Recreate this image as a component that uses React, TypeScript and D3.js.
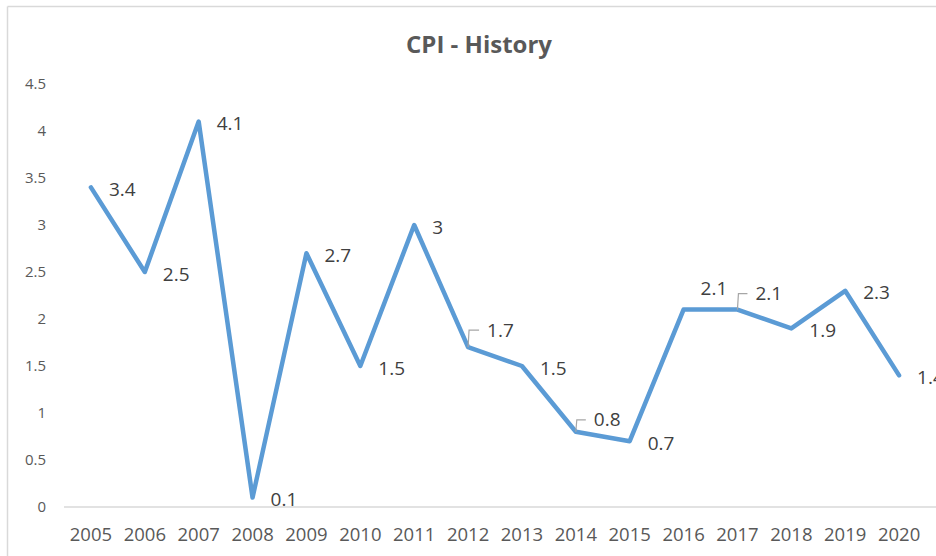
import * as d3 from 'd3';

const years = ['2005', '2006', '2007', '2008', '2009', '2010', '2011', '2012', '2013', '2014', '2015', '2016', '2017', '2018', '2019', '2020'];
const cpi = [3.4, 2.5, 4.1, 0.1, 2.7, 1.5, 3, 1.7, 1.5, 0.8, 0.7, 2.1, 2.1, 1.9, 2.3, 1.4];
const yTicks = [0, 0.5, 1, 1.5, 2, 2.5, 3, 3.5, 4, 4.5];

const W = 936;
const H = 556;
const font = '"Open Sans", "Noto Sans", sans-serif';
const lineColor = '#5b9bd5';

// labels Excel moved off the default spot (text start / middle, relative to the point)
const moved: Record<string, { dx: number, dy: number, leader: boolean }> = {
	'2012': { dx: 19, dy: -17, leader: true },
	'2014': { dx: 18, dy: -12, leader: true },
	'2016': { dx: 17, dy: -21, leader: false },
	'2017': { dx: 18, dy: -16, leader: true },
};

export default function App() {

	const x = d3.scalePoint<string>()
		.domain(years)
		.range([64, 926])
		.padding(0.5);

	const y = d3.scaleLinear()
		.domain([0, 4.5])
		.range([507, 84]);

	const points = years.map((yr, i) => ({ yr, v: cpi[i] }));

	const line = d3.line<{ yr: string, v: number }>()
		.x(d => x(d.yr) as number)
		.y(d => y(d.v));

	return (
		<svg
			width={W}
			height={H}
			viewBox={`0 0 ${W} ${H}`}
			style={{ position: 'absolute', left: 0, top: 0, background: '#fff' }}
		>
			{/* chart frame, cut by the screenshot on the right and bottom */}
			<line x1={7.5} y1={6.5} x2={W} y2={6.5} stroke='#d9d9d9' strokeWidth={1.5} />
			<line x1={7.5} y1={6.5} x2={7.5} y2={H} stroke='#d9d9d9' strokeWidth={1.5} />

			<text x={479} y={53} textAnchor='middle' fontFamily={font} fontSize={24} fontWeight={700} fill='#595959'>
				CPI - History
			</text>

			{yTicks.map(t => (
				<text key={t} x={46} y={y(t)} dy='0.35em' textAnchor='end' fontFamily={font} fontSize={15} fill='#595959'>
					{t}
				</text>
			))}

			<line x1={64} x2={W} y1={y(0)} y2={y(0)} stroke='#d9d9d9' strokeWidth={1.5} />

			{years.map(yr => (
				<text key={yr} x={x(yr)} y={535} dy='0.35em' textAnchor='middle' fontFamily={font} fontSize={18.5} fill='#595959'>
					{yr}
				</text>
			))}

			<path d={line(points) ?? ''} fill='none' stroke={lineColor} strokeWidth={4.5} strokeLinejoin='round' strokeLinecap='round' />

			{points.map(p => {
				const px = x(p.yr) as number;
				const py = y(p.v);
				const m = moved[p.yr] ?? { dx: 18, dy: 2, leader: false };
				const ly = py + m.dy;
				return (
					<g key={p.yr}>
						{m.leader && (
							<polyline
								points={`${px},${py} ${px + 1},${ly} ${px + m.dx - 8},${ly}`}
								fill='none'
								stroke='#a6a6a6'
								strokeWidth={1.2}
							/>
						)}
						<text x={px + m.dx} y={ly} dy='0.35em' fontFamily={font} fontSize={19} fill='#404040'>
							{p.v}
						</text>
					</g>
				);
			})}
		</svg>
	);
}
